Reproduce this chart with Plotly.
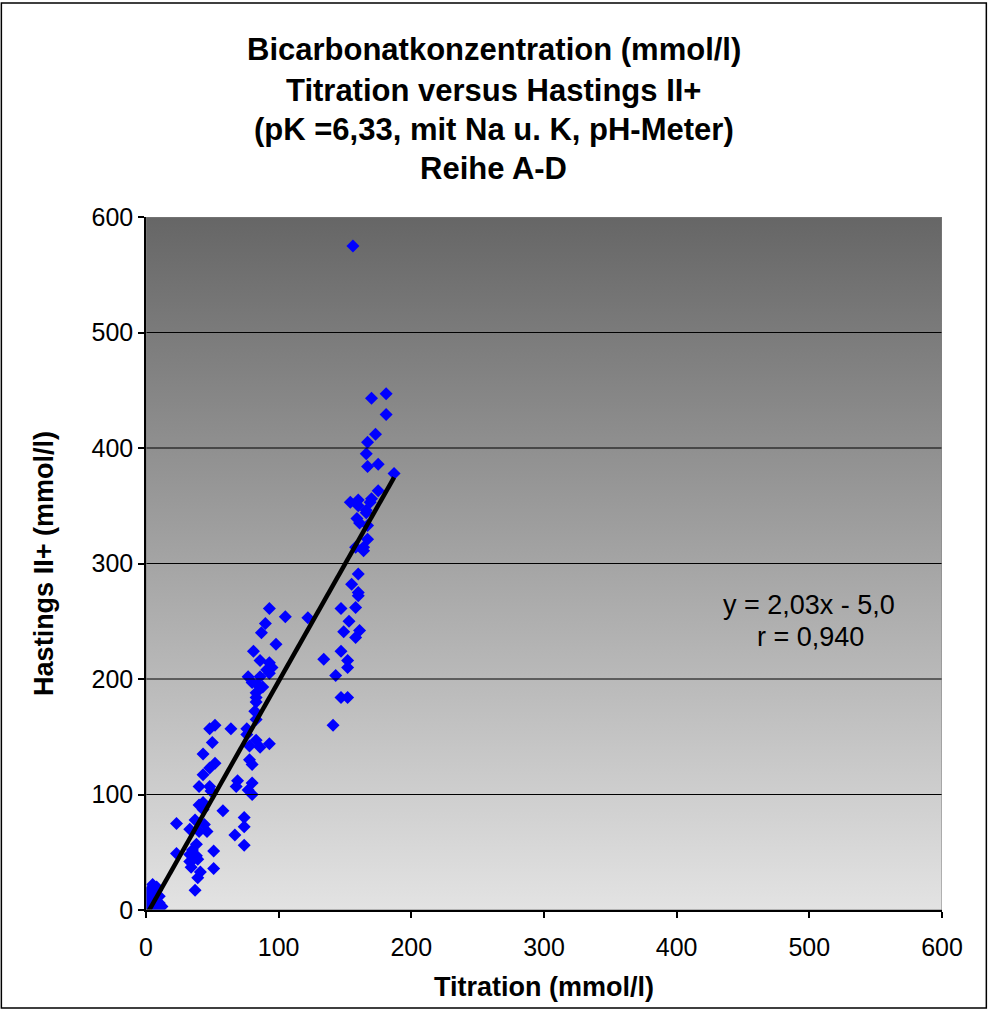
import plotly.graph_objects as go

# Titration (mmol/l) values
titration = [
    156, 181, 170, 181, 173, 167, 166, 167, 175, 187, 175, 154, 160, 160, 169, 170,
    166, 166, 159, 161, 167, 167, 158, 164, 164, 160, 155, 160, 160, 147, 158, 122,
    153, 149, 161, 158, 147, 134, 152, 152, 143, 147, 152, 141,
    93, 105, 90, 87, 98, 81, 86, 93, 95, 91, 93, 77, 86, 80, 84, 88, 83, 83, 83, 82,
    83, 52, 48, 64, 76, 76, 83, 93, 50, 78, 86, 43, 78, 80, 52, 48, 43, 69, 68, 80,
    77, 80, 40, 48, 49, 43,
    40, 43, 58, 74, 23, 37, 44, 33, 40, 46, 74, 67, 74, 38, 35, 51, 23, 33, 38, 35,
    33, 39, 34, 51, 41, 39, 37,
    5, 2.6, 8, 6.4, 0.4, 10, 8.7, 4.1, 4.9, 1.1, 0.5, 2, 12, 10, 3, 8
]
# Hastings II+ (mmol/l) values
hastings = [
    575, 447, 443, 429, 412, 405, 395, 384, 386, 378, 363, 353, 355, 350, 353, 356,
    346, 344, 339, 335, 333, 321, 314, 314, 311, 291, 282, 275, 272, 261, 262, 253,
    250, 241, 242, 236, 224, 217, 216, 210, 203, 184, 184, 160,
    261, 254, 248, 240, 230, 224, 216, 214, 210, 208, 205, 202, 202, 197, 195, 193,
    188, 184, 180, 172, 165, 160, 157, 157, 157, 152, 147, 144, 145, 142, 141, 135,
    130, 126, 127, 123, 117, 112, 107, 110, 104, 100, 107, 107, 103, 93,
    91, 87, 86, 80, 75, 78, 74, 70, 68, 68, 72, 65, 56, 57, 52, 51, 49, 48, 47, 43,
    42, 44, 37, 36, 33, 28, 17,
    22, 17, 17, 9, 3, 6, 2, 2, 11, 9, 1, 4, 3, 12, 14, 20
]

slope = 2.03
intercept = -5.0
r_value = 0.940

title_lines = [
    "Bicarbonatkonzentration (mmol/l)",
    "Titration versus Hastings II+",
    "(pK =6,33, mit Na u. K, pH-Meter)",
    "Reihe A-D",
]
x_title = "Titration (mmol/l)"
y_title = "Hastings II+ (mmol/l)"
tick_vals = [0, 100, 200, 300, 400, 500, 600]

FONT = "Liberation Sans, Arial, sans-serif"

fig = go.Figure()

# gradient plot-area background
fig.add_trace(go.Scatter(
    x=[0, 600, 600, 0, 0], y=[0, 0, 600, 600, 0],
    mode="lines", line=dict(width=0), fill="toself",
    fillgradient=dict(type="vertical",
                      colorscale=[[0, "#e3e3e3"], [1, "#666666"]]),
    hoverinfo="skip", showlegend=False,
))

# horizontal gridlines
for v in tick_vals[1:-1]:
    fig.add_shape(type="line", xref="x", yref="y", x0=0, x1=600, y0=v, y1=v,
                  line=dict(color="#000000", width=1))

fig.add_trace(go.Scatter(
    x=titration, y=hastings, mode="markers",
    marker=dict(symbol="diamond", size=10, color="#0000ff", line=dict(width=0)),
    showlegend=False,
))

x_min = 0
x_max = max(titration)
fig.add_trace(go.Scatter(
    x=[x_min, x_max], y=[slope * x_min + intercept, slope * x_max + intercept],
    mode="lines", line=dict(color="#000000", width=4.5), showlegend=False,
))

# plot area border
fig.add_shape(type="rect", xref="x", yref="y", x0=0, x1=600, y0=0, y1=600,
              line=dict(color="#808080", width=1))
# outer chart frame
fig.add_shape(type="rect", xref="paper", yref="paper",
              x0=-0.1817, x1=1.0557, y0=-0.1414, y1=1.3088,
              line=dict(color="#000000", width=1.5))

title_y = [50, 90, 130, 169]
for txt, py in zip(title_lines, title_y):
    fig.add_annotation(text="<b>%s</b>" % txt, xref="paper", yref="paper",
                       x=(494 - 146.5) / 795.2, y=(910 - py) / 693,
                       showarrow=False, xanchor="center", yanchor="middle",
                       font=dict(family=FONT, size=31, color="#000000"))

fig.add_annotation(text="y = 2,03x - 5,0", x=500, y=264, xref="x", yref="y",
                   showarrow=False, font=dict(family=FONT, size=27, color="#000000"))
fig.add_annotation(text="r = 0,940", x=501, y=236, xref="x", yref="y",
                   showarrow=False, font=dict(family=FONT, size=27, color="#000000"))

axis_common = dict(
    range=[0, 600], tickvals=tick_vals, showgrid=False, zeroline=False,
    showline=True, linecolor="#000000", linewidth=1.5,
    ticks="outside", ticklen=6, tickcolor="#000000", tickwidth=1.5,
    tickfont=dict(family=FONT, size=25, color="#000000"),
)
fig.update_xaxes(**axis_common, ticklabelstandoff=8,
                 title=dict(text="<b>%s</b>" % x_title, standoff=17,
                            font=dict(family=FONT, size=27, color="#000000")))
fig.update_yaxes(**axis_common,
                 title=dict(text="<b>%s</b>" % y_title, standoff=30,
                            font=dict(family=FONT, size=27, color="#000000")))

fig.update_layout(
    width=989, height=1012,
    margin=dict(l=146, r=47, t=217, b=102),
    paper_bgcolor="#ffffff", plot_bgcolor="#ffffff",
    showlegend=False,
)

fig.write_html("out.html", config={"displayModeBar": False},
               post_script="document.body.style.margin='0px';")
